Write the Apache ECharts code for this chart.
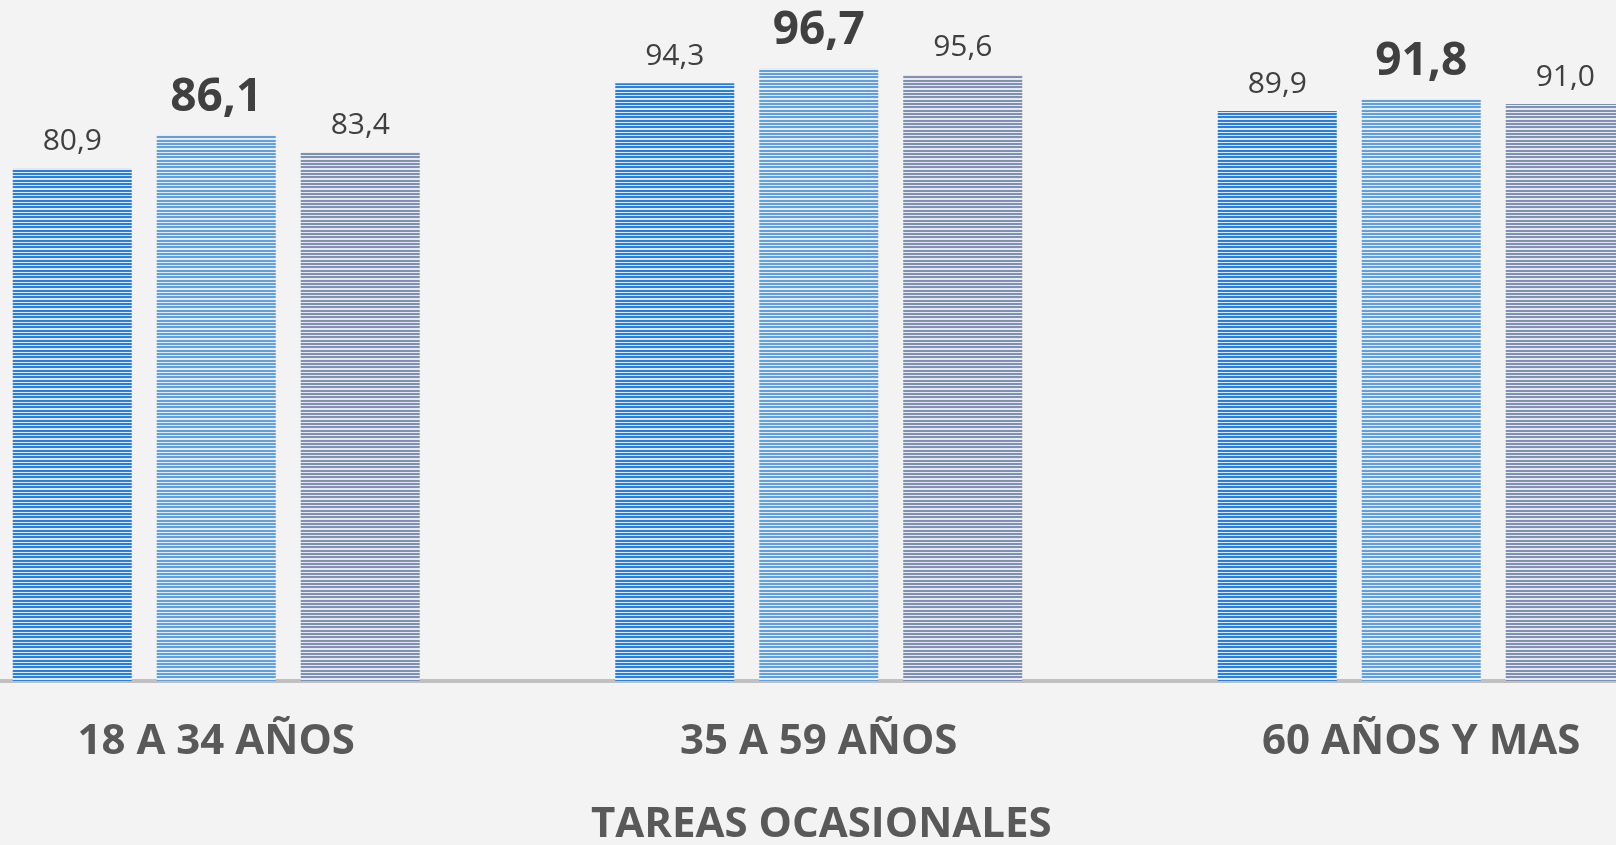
<!DOCTYPE html>
<html>
<head>
<meta charset="utf-8">
<script src="https://cdn.jsdelivr.net/npm/echarts@6/dist/echarts.min.js"></script>
<style>
html,body{margin:0;padding:0;background:#f3f3f3;}
#chart{width:1616px;height:845px;}
</style>
</head>
<body>
<div id="chart"></div>
<script>
const categories = ['18 A 34 AÑOS', '35 A 59 AÑOS', '60 AÑOS Y MAS'];
const serieA = [80.9, 94.3, 89.9];
const serieB = [86.1, 96.7, 91.8];
const serieC = [83.4, 95.6, 91.0];
const axisTitle = 'TAREAS OCASIONALES';

function stripes(color, light) {
  const c = document.createElement('canvas');
  c.width = 4; c.height = 10;
  const g = c.getContext('2d');
  g.fillStyle = light; g.fillRect(0, 0, 4, 10);
  g.fillStyle = color;
  [0, 1, 3, 4, 6, 7].forEach(function (r) { g.fillRect(0, r, 4, 1); });
  return { image: c, repeat: 'repeat' };
}

const fmt = function (p) { return p.value.toFixed(1).replace('.', ','); };
const font = 'Open Sans';

const chart = echarts.init(document.getElementById('chart'));
chart.setOption({
  backgroundColor: '#f3f3f3',
  animation: false,
  title: {
    text: axisTitle,
    left: 591,
    top: 804,
    padding: 0,
    textStyle: { fontFamily: font, fontSize: 42, fontWeight: 'bold', color: '#595959' }
  },
  grid: { left: -85, right: -106.5, top: 47, bottom: 164, containLabel: false, outerBoundsMode: 'none' },
  xAxis: {
    type: 'category',
    data: categories,
    axisTick: { show: false },
    axisLine: { lineStyle: { color: '#c0c0c0', width: 4 } },
    axisLabel: { margin: 40, fontFamily: font, fontSize: 42, fontWeight: 'bold', color: '#595959' }
  },
  yAxis: { type: 'value', min: 0, max: 100, show: false, splitLine: { show: false } },
  series: [
    {
      type: 'bar', name: 'A', data: serieA, barWidth: 119, barGap: '21%',
      itemStyle: { color: stripes('#2b7fdc', '#dfe9f5') },
      label: { show: true, position: 'top', distance: 12, formatter: fmt, fontFamily: font, fontSize: 30, color: '#404040' }
    },
    {
      type: 'bar', name: 'B', data: serieB, barWidth: 119, barGap: '21%',
      itemStyle: { color: stripes('#62a0dc', '#e4edf7') },
      label: { show: true, position: 'top', distance: 14, formatter: fmt, fontFamily: font, fontSize: 46, fontWeight: 'bold', color: '#404040' }
    },
    {
      type: 'bar', name: 'C', data: serieC, barWidth: 119, barGap: '21%',
      itemStyle: { color: stripes('#8090b0', '#e6e9ef') },
      label: { show: true, position: 'top', distance: 12, formatter: fmt, fontFamily: font, fontSize: 30, color: '#404040' }
    }
  ]
});
</script>
</body>
</html>
